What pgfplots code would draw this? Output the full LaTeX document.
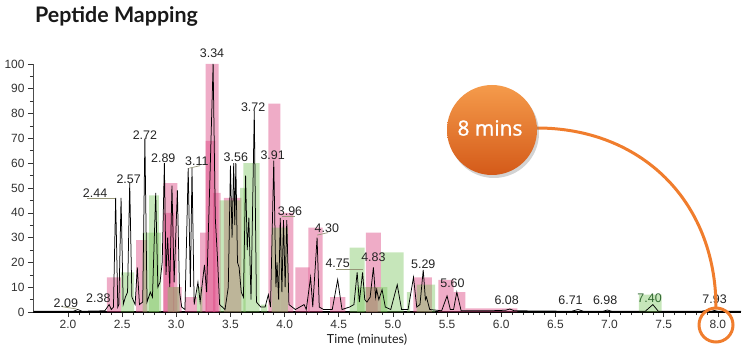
\documentclass[border=0pt]{standalone}
\usepackage{fontspec}
\setmainfont{Liberation Sans}
\newfontfamily\latofont{Lato}
\newfontfamily\opensans[FakeBold=1.2]{Open Sans}
\usepackage{pgfplots}
\pgfplotsset{compat=1.18}
\usetikzlibrary{shadows}
\definecolor{pinkbar}{RGB}{220,70,130}
\definecolor{greenbar}{RGB}{120,195,90}
\definecolor{orangeA}{RGB}{245,155,75}
\definecolor{orangeB}{RGB}{212,90,25}
\definecolor{orangeline}{RGB}{240,125,45}
\definecolor{ticktext}{RGB}{50,50,50}
\definecolor{lbl}{RGB}{35,35,35}
\definecolor{leader}{RGB}{150,150,120}
\newcommand\pbar[3]{\addplot[draw=none, fill=pinkbar, fill opacity=0.45] coordinates {(#1,0) (#1,#3) (#2,#3) (#2,0)} \closedcycle;}
\newcommand\gbar[3]{\addplot[draw=none, fill=greenbar, fill opacity=0.42] coordinates {(#1,0) (#1,#3) (#2,#3) (#2,0)} \closedcycle;}
\begin{document}
\begin{tikzpicture}
\begin{axis}[
 at={(0,0)}, anchor=south west,
 scale only axis, width=708bp, height=248bp,
 xmin=1.677, xmax=8.214, ymin=0, ymax=100,
 axis lines*=left,
 x axis line style={line width=1.2bp, black},
 y axis line style={line width=0.6bp, black!70},
 xtick={2,2.5,...,8}, minor x tick num=4,
 ytick={0,10,...,100}, minor y tick num=1,
 tick align=outside,
 major tick length=5bp, minor tick length=3bp,
 tick style={black!80, line width=0.6bp},
 ticklabel style={font=\fontsize{12}{14}\selectfont, text=ticktext},
 /pgf/number format/assume math mode=true,
 xticklabel style={/pgf/number format/fixed, /pgf/number format/fixed zerofill, /pgf/number format/precision=1},
 clip=false,
]
% pink bars
\pbar{2.36}{2.49}{14}
\pbar{2.63}{2.73}{29}
\pbar{2.88}{3.01}{52}
\pbar{2.88}{2.98}{40}
\pbar{2.97}{3.05}{10}
\pbar{3.08}{3.19}{6}
\pbar{3.22}{3.28}{32}
\pbar{3.27}{3.39}{100}
\pbar{3.27}{3.36}{69}
\pbar{3.34}{3.41}{48}
\pbar{3.44}{3.60}{46}
\pbar{3.85}{3.96}{84}
\pbar{3.96}{4.08}{40}
\pbar{4.10}{4.23}{18}
\pbar{4.22}{4.35}{34}
\pbar{4.42}{4.56}{6}
\pbar{4.75}{4.89}{32}
\pbar{4.75}{4.86}{10}
\pbar{5.19}{5.36}{14}
\pbar{5.42}{5.56}{13}
\pbar{5.56}{5.67}{8}
\pbar{5.67}{6.15}{1.5}
% green bars
\gbar{2.49}{2.61}{16}
\gbar{2.75}{2.84}{47}
\gbar{2.69}{2.86}{32}
\gbar{2.92}{3.03}{10}
\gbar{3.19}{3.24}{10}
\gbar{3.40}{3.59}{45}
\gbar{3.59}{3.64}{50}
\gbar{3.62}{3.77}{60}
\gbar{3.78}{3.84}{3}
\gbar{3.88}{4.03}{34}
\gbar{4.60}{4.74}{26}
\gbar{4.67}{4.95}{10}
\gbar{4.89}{5.10}{24}
\gbar{5.13}{5.16}{8}
\gbar{5.22}{5.39}{11}
\gbar{7.27}{7.48}{7}
% chromatogram
\addplot[black, line width=0.75bp] coordinates {
(1.68,0.3)(2.05,0.3)(2.09,1)(2.13,0.3)(2.34,0.5)(2.38,3)(2.40,1)(2.42,2)(2.44,46)(2.46,2)(2.47,3)(2.49,46)(2.51,3)(2.53,6)(2.55,8)(2.57,52)(2.59,6)(2.62,3)(2.64,18)(2.66,3)(2.69,4)(2.71,70)(2.73,4)(2.76,8)(2.78,6)(2.81,48)(2.83,10)(2.85,12)(2.87,20)(2.89,60)(2.905,15)(2.92,30)(2.94,10)(2.96,51)(2.98,12)(3.01,49)(3.03,8)(3.05,2)(3.08,1)(3.11,58)(3.13,10)(3.145,58)(3.165,3)(3.20,12)(3.22,4)(3.26,19)(3.28,8)(3.31,53)(3.34,100)(3.36,38)(3.38,22)(3.40,3)(3.45,1)(3.48,10)(3.50,59)(3.515,30)(3.53,60)(3.54,35)(3.55,60)(3.565,20)(3.58,18)(3.60,8)(3.62,6)(3.64,55)(3.655,25)(3.67,38)(3.69,5)(3.72,81)(3.74,4)(3.78,2)(3.82,2)(3.85,7)(3.87,2)(3.90,61)(3.92,10)(3.93,20)(3.945,5)(3.96,38)(3.975,8)(3.99,37)(4.005,10)(4.02,37)(4.04,3)(4.10,1)(4.18,3)(4.20,1)(4.24,14)(4.26,2)(4.30,30)(4.32,2)(4.36,1)(4.44,1)(4.49,13)(4.53,1)(4.60,2)(4.64,3)(4.67,16)(4.69,4)(4.72,16)(4.74,5)(4.76,4)(4.79,6)(4.82,18)(4.84,6)(4.85,9)(4.87,5)(4.90,9)(4.93,2)(4.98,1)(5.04,11)(5.08,1)(5.14,1)(5.19,14)(5.22,2)(5.25,3)(5.28,17)(5.30,5)(5.31,6)(5.34,1)(5.45,0.5)(5.50,6.5)(5.53,1)(5.56,1)(5.59,8)(5.63,0.5)(5.90,0.5)(6.04,0.7)(6.08,1.2)(6.12,0.5)(6.65,0.3)(6.71,1)(6.76,0.3)(6.94,0.3)(6.98,0.8)(7.02,0.3)(7.33,0.3)(7.40,3)(7.45,0.3)(7.85,0.3)(7.93,1)(8.0,0.3)(8.214,0.3)};
% leader lines
\draw[leader, line width=0.7bp] (axis cs:2.18,46) -- (axis cs:2.43,46);
\draw[leader, line width=0.7bp] (axis cs:4.47,17) -- (axis cs:4.72,17);
\draw[leader, line width=0.7bp] (axis cs:1.94,2.2) -- (axis cs:2.08,1.2);
\draw[leader, line width=0.7bp] (axis cs:3.12,58) -- (axis cs:3.22,59);
\draw[leader, line width=0.7bp] (axis cs:3.98,38.5) -- (axis cs:4.10,38.5);
\draw[leader, line width=0.7bp] (axis cs:4.30,31) -- (axis cs:4.40,32);
% labels
\begin{scope}[every node/.style={font=\fontsize{12.5}{14}\selectfont, text=lbl, inner sep=0pt}]
\node at (axis cs:1.98,3.6) {2.09};
\node at (axis cs:2.28,5.6) {2.38};
\node at (axis cs:2.25,48) {2.44};
\node at (axis cs:2.56,53.6) {2.57};
\node at (axis cs:2.71,71.4) {2.72};
\node at (axis cs:2.88,62) {2.89};
\node at (axis cs:3.19,61) {3.11};
\node at (axis cs:3.33,104.4) {3.34};
\node at (axis cs:3.55,62.5) {3.56};
\node at (axis cs:3.71,82.7) {3.72};
\node at (axis cs:3.89,63.3) {3.91};
\node at (axis cs:4.05,40.7) {3.96};
\node at (axis cs:4.39,33.9) {4.30};
\node at (axis cs:4.49,19.8) {4.75};
\node at (axis cs:4.82,22.2) {4.83};
\node at (axis cs:5.28,19.4) {5.29};
\node at (axis cs:5.55,11.7) {5.60};
\node at (axis cs:6.05,4.8) {6.08};
\node at (axis cs:6.64,4.8) {6.71};
\node at (axis cs:6.96,4.8) {6.98};
\node[text={rgb,255:red,50;green,105;blue,50}] at (axis cs:7.37,5.6) {7.40};
\node at (axis cs:7.97,5.2) {7.93};
\end{scope}
\end{axis}
% title and x label
\node[anchor=base west, inner sep=0pt, font=\latofont\bfseries\fontsize{21.5}{25}\selectfont, text={rgb,255:red,25;green,25;blue,25}] at (2bp,289bp) {Peptide Mapping};
\node[inner sep=0pt, font=\latofont\fontsize{12.5}{15}\selectfont, text={rgb,255:red,25;green,25;blue,25}] at (334bp,-28bp) {Time (minutes)};
% annotation
\draw[orangeline, line width=3bp] (504bp,184bp) .. controls (607bp,184bp) and (683bp,112bp) .. (683bp,4bp);
\draw[orangeline, line width=3bp] (683bp,-13bp) circle (17bp);
\shade[top color=orangeA, bottom color=orangeB, drop shadow={opacity=0.35, shadow xshift=2bp, shadow yshift=-3bp}] (459bp,182bp) circle (45bp);
\node[text=white, font=\opensans\fontsize{21}{25}\selectfont] at (457bp,184bp) {8 mins};
\pgfresetboundingbox
\path[use as bounding box] (-33bp,-46bp) rectangle (710bp,312bp);
\end{tikzpicture}
\end{document}
